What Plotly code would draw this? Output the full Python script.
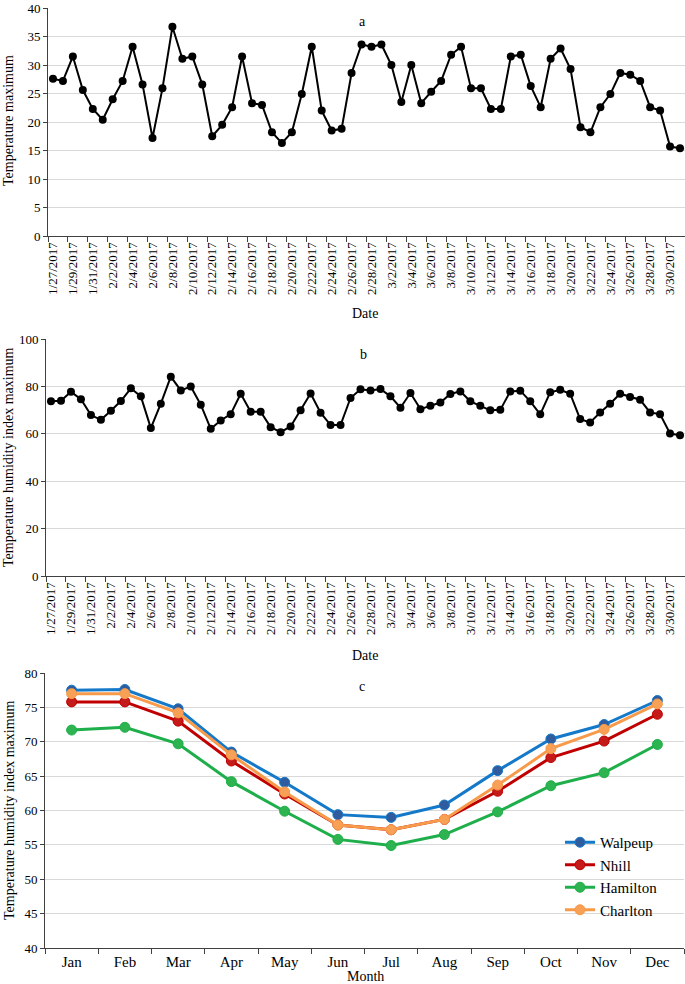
import pandas as pd
import plotly.graph_objects as go

# ---------------- data ----------------
dates = [f"{d.month}/{d.day}/{d.year}" for d in pd.date_range("2017-01-27", "2017-03-31")]

temp_max = [27.6, 27.2, 31.5, 25.6, 22.3, 20.4, 24.0, 27.2, 33.2, 26.6,
            17.2, 25.9, 36.7, 31.1, 31.5, 26.6, 17.5, 19.5, 22.6, 31.5,
            23.3, 23.0, 18.2, 16.3, 18.2, 24.9, 33.2, 22.0, 18.5, 18.8,
            28.6, 33.6, 33.2, 33.6, 30.0, 23.5, 30.0, 23.3, 25.3, 27.2,
            31.8, 33.2, 25.9, 25.9, 22.3, 22.3, 31.5, 31.8, 26.3, 22.6,
            31.1, 32.9, 29.3, 19.1, 18.2, 22.6, 24.9, 28.6, 28.3, 27.2,
            22.6, 22.0, 15.7, 15.4]

thi_max = [73.7, 73.9, 77.7, 74.6, 67.9, 65.9, 69.7, 73.8, 79.2, 75.8,
           62.4, 72.7, 84.1, 78.3, 80.0, 72.3, 62.1, 65.6, 68.3, 76.9,
           69.3, 69.3, 62.8, 60.7, 63.1, 69.9, 77.0, 68.9, 63.7, 63.7,
           75.1, 78.8, 78.3, 78.9, 75.8, 71.0, 77.2, 70.4, 71.8, 73.2,
           76.8, 77.9, 73.7, 71.8, 69.9, 70.1, 77.9, 78.2, 73.7, 68.2,
           77.5, 78.6, 76.9, 66.2, 64.8, 69.0, 72.7, 76.9, 75.5, 74.4,
           69.0, 68.3, 60.1, 59.4]

months = ["Jan", "Feb", "Mar", "Apr", "May", "Jun",
          "Jul", "Aug", "Sep", "Oct", "Nov", "Dec"]
walpeup = [77.5, 77.6, 74.8, 68.5, 64.1, 59.4, 59.0, 60.8, 65.8, 70.4, 72.5, 76.0]
nhill = [75.8, 75.8, 73.0, 67.2, 62.4, 57.9, 57.2, 58.7, 62.8, 67.7, 70.1, 74.0]
hamilton = [71.7, 72.1, 69.7, 64.2, 59.9, 55.8, 54.9, 56.5, 59.8, 63.6, 65.5, 69.6]
charlton = [77.0, 77.0, 74.2, 68.1, 62.7, 57.9, 57.2, 58.7, 63.7, 69.0, 71.8, 75.5]

station_names = ["Walpeup", "Nhill", "Hamilton", "Charlton"]
station_vals = [walpeup, nhill, hamilton, charlton]
line_cols = ["#1479C9", "#C00000", "#1EAF4B", "#F79A4A"]
marker_cols = ["#2F5C9E", "#C41A1A", "#2DB34F", "#F8A055"]

# ---------------- geometry ----------------
W, H = 685, 984
FONT = "Liberation Serif"


def px_x(p):
    return p / W


def px_y(p):
    return 1 - p / H


fig = go.Figure()

# Panel a
fig.add_trace(go.Scatter(x=dates, y=temp_max, mode="lines+markers",
                         line=dict(color="black", width=2),
                         marker=dict(color="black", size=8),
                         xaxis="x", yaxis="y", showlegend=False))
# Panel b
fig.add_trace(go.Scatter(x=dates, y=thi_max, mode="lines+markers",
                         line=dict(color="black", width=2),
                         marker=dict(color="black", size=8),
                         xaxis="x2", yaxis="y2", showlegend=False))
# Panel c
for name, vals, lc, mc in zip(station_names, station_vals, line_cols, marker_cols):
    fig.add_trace(go.Scatter(x=months, y=vals, mode="lines+markers", name=name,
                             line=dict(color=lc, width=3),
                             marker=dict(color=mc, size=10,
                                         line=dict(color=lc, width=1)),
                             xaxis="x3", yaxis="y3"))

grid = "#D9D9D9"
axis_col = "#404040"
tickfont = dict(family=FONT, size=13, color="black")

date_tickvals = dates[::2]
n = len(dates)

common_x = dict(type="category", showgrid=False, showline=True, linecolor=axis_col,
                linewidth=1, ticks="", tickangle=-90, tickfont=tickfont,
                tickvals=date_tickvals, ticktext=date_tickvals,
                range=[-0.5, n - 0.5], zeroline=False, automargin=False,
                ticklabeloverflow="allow")
common_y = dict(showgrid=True, gridcolor=grid, gridwidth=1, showline=True,
                linecolor=axis_col, linewidth=1, ticks="outside", ticklen=4,
                tickcolor=axis_col, tickfont=tickfont, zeroline=False, automargin=False,
                ticklabeloverflow="allow")

xa_dom = [px_x(48), 1.0]
xb_dom = [px_x(46), 1.0]
xc_dom = [px_x(45), px_x(684)]

fig.update_layout(
    width=W, height=H,
    margin=dict(l=0, r=0, t=0, b=0),
    paper_bgcolor="white", plot_bgcolor="white",
    font=dict(family=FONT, color="black"),
    xaxis=dict(common_x, domain=xa_dom, anchor="y"),
    yaxis=dict(common_y, domain=[px_y(236), px_y(8)], range=[0, 40], dtick=5, anchor="x"),
    xaxis2=dict(common_x, domain=xb_dom, anchor="y2"),
    yaxis2=dict(common_y, domain=[px_y(576), px_y(339)], range=[0, 100], dtick=20, anchor="x2"),
    xaxis3=dict(type="category", showgrid=False, showline=True, linecolor=axis_col,
                linewidth=1, ticks="", tickfont=dict(family=FONT, size=15, color="black"),
                range=[-0.5, 11.5], domain=xc_dom, anchor="y3", automargin=False),
    yaxis3=dict(common_y, domain=[px_y(948), px_y(673)], range=[40, 80], dtick=5, anchor="x3"),
    # overlay axes that only carry the tick marks at category boundaries
    xaxis4=dict(overlaying="x", anchor="y", range=[-0.5, n - 0.5], showgrid=False,
                tickvals=[-0.5 + 2 * k for k in range(n // 2 + 1)], ticks="outside",
                ticklen=5, tickcolor=axis_col, showticklabels=False, zeroline=False,
                showline=False),
    xaxis5=dict(overlaying="x2", anchor="y2", range=[-0.5, n - 0.5], showgrid=False,
                tickvals=[-0.5 + 2 * k for k in range(n // 2 + 1)], ticks="outside",
                ticklen=5, tickcolor=axis_col, showticklabels=False, zeroline=False,
                showline=False),
    xaxis6=dict(overlaying="x3", anchor="y3", range=[-0.5, 11.5], showgrid=False,
                tickvals=[-0.5 + k for k in range(13)], ticks="outside",
                ticklen=5, tickcolor=axis_col, showticklabels=False, zeroline=False,
                showline=False),
    legend=dict(x=px_x(560), y=px_y(826), xanchor="left", yanchor="top",
                bgcolor="rgba(0,0,0,0)", font=dict(family=FONT, size=15, color="black"),
                itemwidth=30, tracegroupgap=0),
)

# invisible traces so the overlay tick axes are rendered
for xa, ya in [("x4", "y"), ("x5", "y2"), ("x6", "y3")]:
    fig.add_trace(go.Scatter(x=[0], y=[None], xaxis=xa, yaxis=ya, showlegend=False,
                             hoverinfo="skip", mode="markers"))

ann_font = dict(family=FONT, size=14, color="black")
annotations = [
    dict(text="a", x=px_x(362), y=px_y(22)),
    dict(text="b", x=px_x(363), y=px_y(354)),
    dict(text="c", x=px_x(362), y=px_y(686)),
    dict(text="Date", x=px_x(365), y=px_y(313)),
    dict(text="Date", x=px_x(365), y=px_y(655)),
    dict(text="Month", x=px_x(365), y=px_y(976)),
    dict(text="Temperature maximum", x=px_x(9), y=px_y(121), textangle=-90),
    dict(text="Temperature humidity index maximum", x=px_x(9), y=px_y(457), textangle=-90),
    dict(text="Temperature humidity index maximum", x=px_x(9), y=px_y(810), textangle=-90),
]
for a in annotations:
    fig.add_annotation(xref="paper", yref="paper", showarrow=False,
                       xanchor="center", yanchor="middle", font=ann_font, **a)

fig.write_html("out.html", config={"displayModeBar": False},
               post_script="document.body.style.margin='0';document.body.style.padding='0';")
